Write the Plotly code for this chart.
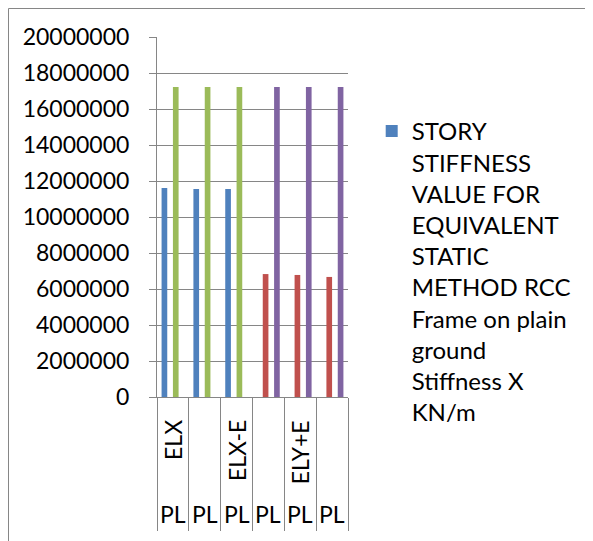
import plotly.graph_objects as go

# ---- data ----
load_cases = ["ELX", "", "ELX-E", "", "ELY+E", ""]
ground = ["PL", "PL", "PL", "PL", "PL", "PL"]
series_names = [
    "STORY<br>STIFFNESS<br>VALUE FOR<br>EQUIVALENT<br>STATIC<br>METHOD RCC<br>Frame on plain<br>ground<br>Stiffness X<br>KN/m",
    "Stiffness Y KN/m",
    "Stiffness X (2) KN/m",
    "Stiffness Y (2) KN/m",
]
series_colors = ["#4F81BD", "#C0504D", "#9BBB59", "#8064A2"]
stiffness_x = [11610000, 11560000, 11560000, None, None, None]
stiffness_y = [None, None, None, 6830000, 6780000, 6670000]
stiffness_x2 = [17220000, 17220000, 17220000, None, None, None]
stiffness_y2 = [None, None, None, 17220000, 17220000, 17220000]
series_values = [stiffness_x, stiffness_y, stiffness_x2, stiffness_y2]
y_ticks = [0, 2000000, 4000000, 6000000, 8000000, 10000000,
           12000000, 14000000, 16000000, 18000000, 20000000]

FONT = "Lato"
GRID = "#868686"
n = len(load_cases)
xpos = list(range(n))

# figure sits at (8,8) in the page because of the default body margin
W, H = 585, 533
L, T, PW, PH = 149, 29, 191, 360

fig = go.Figure()
for i, (name, vals, col) in enumerate(zip(series_names, series_values, series_colors)):
    fig.add_trace(go.Bar(
        x=xpos, y=vals, name=name, marker=dict(color=col, line=dict(width=0)),
        showlegend=(i == 0),
    ))

# category labels (two rows)
annotations = []
for i in range(n):
    if load_cases[i]:
        annotations.append(dict(
            x=i, y=0, xref="x", yref="paper", text=load_cases[i], textangle=-90,
            showarrow=False, xanchor="center", yanchor="top", yshift=-21,
            font=dict(family=FONT, size=23, color="#000000"),
        ))
    annotations.append(dict(
        x=i, y=0, xref="x", yref="paper", text=ground[i],
        showarrow=False, xanchor="center", yanchor="middle", yshift=-117,
        font=dict(family=FONT, size=23, color="#000000"),
    ))

fig.update_layout(
    width=W, height=H,
    margin=dict(l=L, r=W - L - PW, t=T, b=H - T - PH),
    paper_bgcolor="white", plot_bgcolor="white",
    barmode="group", bargap=0.2875, bargroupgap=0,
    font=dict(family=FONT, size=23, color="#000000"),
    showlegend=True,
    legend=dict(
        xref="container", yref="container",
        x=363.7 / W, y=1 - 101 / H, xanchor="left", yanchor="top",
        font=dict(family=FONT, size=24, color="#000000"),
        valign="top", bgcolor="rgba(0,0,0,0)", borderwidth=0,
        itemclick=False, maxheight=1,
    ),
    annotations=annotations,
    shapes=[dict(
        type="rect", xref="paper", yref="paper",
        x0=(0.5 - L) / PW, x1=(W + 20 - L) / PW,
        y0=(T + PH - (H + 20)) / PH, y1=(T + PH - 0.5) / PH,
        line=dict(color=GRID, width=1), fillcolor="rgba(0,0,0,0)", layer="below",
    )],
)
fig.update_yaxes(
    range=[0, 20000000], tickvals=y_ticks, ticktext=[str(v) for v in y_ticks],
    showgrid=True, gridcolor=GRID, gridwidth=1,
    showline=True, linecolor=GRID, linewidth=1,
    ticks="outside", ticklen=7, tickcolor=GRID,
    ticklabelstandoff=15, zeroline=False, automargin=False,
    tickfont=dict(family=FONT, size=23, color="#000000"),
)
fig.update_xaxes(
    range=[-0.5, n - 0.5],
    tickvals=[i - 0.5 for i in range(n + 1)],
    showticklabels=False,
    ticks="outside", ticklen=133, tickcolor=GRID, tickwidth=1,
    showline=True, linecolor=GRID, linewidth=1,
    showgrid=False, zeroline=False, automargin=False,
)

fig.write_html("out.html")
